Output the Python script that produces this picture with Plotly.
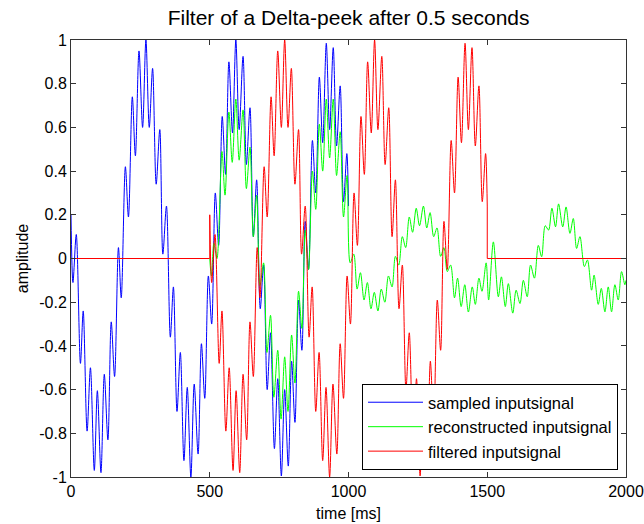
import plotly.graph_objects as go

# ---- data (time in ms, amplitude) ----
blue_t = [0, 7, 19, 34, 44, 58, 70, 84, 95, 108, 120, 133, 145, 157, 171, 181, 196, 207, 221, 232,
          245, 258, 270, 282, 294, 307, 320, 331, 344, 358, 369, 382, 394, 407, 419, 432, 444, 458, 470, 482,
          495, 507, 520, 532, 545, 557, 569, 582, 594, 606, 620, 632, 645, 657, 669, 682, 694, 707, 719, 733,
          745, 758, 770, 783, 795, 807, 820, 832, 844, 856, 870, 882, 895, 907, 920, 932, 945, 957, 970, 982,
          994, 1000]
blue_v = [0.20, -0.11, 0.11, -0.48, -0.24, -0.79, -0.50, -0.97, -0.605, -0.98,
          -0.53, -0.83, -0.29, -0.54, 0.05, -0.18, 0.42, 0.19, 0.74, 0.47,
          0.95, 0.60, 1.0, 0.60, 0.87, 0.34, 0.59, 0.02, 0.24, -0.36,
          -0.13, -0.70, -0.43, -0.925, -0.59, -1.0, -0.575, -0.895, -0.39, -0.64,
          -0.08, -0.30, 0.30, 0.06, 0.65, 0.385, 0.90, 0.575, 1.0, 0.59,
          0.925, 0.43, 0.69, 0.10, 0.36, -0.23, -0.03, -0.60, -0.34, -0.87,
          -0.55, -0.995, -0.60, -0.95, -0.47, -0.75, -0.19, -0.42, 0.17, -0.05,
          0.54, 0.30, 0.83, 0.53, 0.985, 0.59, 0.965, 0.515, 0.79, 0.26,
          0.48, 0.24]

green_t = [500, 506, 515, 526, 544, 555, 569, 581, 594, 606, 620, 632, 645, 657, 669, 681, 694, 706, 719, 731,
           745, 757, 770, 782, 795, 807, 820, 832, 844, 856, 870, 882, 895, 907, 920, 932, 945, 957, 970, 982,
           995, 1006, 1019, 1031, 1043, 1056, 1068, 1081, 1093, 1106, 1118, 1131, 1144, 1157, 1169, 1181, 1194,
           1206, 1219, 1231, 1244, 1256, 1270, 1282, 1294, 1307, 1319, 1332, 1344, 1356, 1368, 1382, 1393, 1406,
           1419, 1432, 1446, 1457, 1470, 1481, 1496, 1505, 1522, 1540, 1551, 1565, 1576, 1592, 1604, 1618,
           1630, 1644, 1656, 1670, 1684, 1696, 1709, 1721, 1733, 1746, 1757, 1772, 1784, 1798, 1810, 1822,
           1834, 1850, 1861, 1876, 1885, 1900, 1911, 1924, 1936, 1948, 1960, 1972, 1984, 1996, 2000]
green_v = [0.0, -0.08, 0.07, 0.0, 0.49, 0.29, 0.67, 0.44, 0.73, 0.45,
           0.68, 0.32, 0.51, 0.10, 0.29, -0.125, -0.02, -0.43, -0.26, -0.635,
           -0.42, -0.735, -0.45, -0.70, -0.35, -0.57, -0.15, -0.32, 0.13, -0.05,
           0.40, 0.225, 0.615, 0.40, 0.73, 0.46, 0.73, 0.38, 0.58, 0.19,
           0.38, -0.02, 0.02, -0.14, -0.065, -0.19, -0.11, -0.23, -0.155, -0.24,
           -0.14, -0.20, -0.08, -0.13, 0.01, -0.03, 0.10, 0.05, 0.19, 0.12,
           0.23, 0.15, 0.24, 0.14, 0.21, 0.10, 0.14, 0.01, 0.05, -0.06,
           -0.03, -0.18, -0.09, -0.22, -0.12, -0.245, -0.13, -0.21, -0.09, -0.15,
           -0.02, -0.19, 0.076, -0.175, -0.084, -0.22, -0.115, -0.25, -0.145, -0.206,
           -0.10, -0.175, -0.03, -0.09, 0.06, 0.008, 0.15, 0.13, 0.23, 0.145,
           0.25, 0.145, 0.236, 0.115, 0.183, 0.046, 0.10, -0.037, -0.007, -0.145,
           -0.076, -0.21, -0.137, -0.244, -0.13, -0.244, -0.12, -0.19, -0.06, -0.12,
           -0.10]

# filtered signal: flat before the delta at 500 ms ...
red_pre_t = [0, 500, 500]
red_pre_v = [0.0, 0.0, 0.20]
# ... the rippled part between 500 and 1500 ms ...
red_t = [500, 507, 519, 534, 544, 558, 570, 584, 595, 608, 620, 633, 645, 657, 671, 681, 696, 707,
         721, 732, 745, 758, 770, 782, 794, 807, 820, 831, 844, 858, 869, 882, 894, 907, 919, 932, 944, 958,
         970, 982, 995, 1007, 1020, 1032, 1045, 1057, 1069, 1082, 1094, 1106, 1120, 1132, 1145, 1157, 1169,
         1182, 1194, 1207, 1219, 1233, 1245, 1258, 1270, 1283, 1295, 1307, 1320, 1332, 1344, 1356, 1370,
         1382, 1395, 1407, 1420, 1432, 1445, 1457, 1470, 1482, 1494, 1500]
red_v = [0.20, -0.11, 0.11, -0.48, -0.24, -0.79, -0.50, -0.97, -0.605, -0.98,
         -0.53, -0.83, -0.29, -0.54, 0.05, -0.18, 0.42, 0.19, 0.74, 0.47,
         0.95, 0.60, 1.0, 0.60, 0.87, 0.34, 0.59, 0.02, 0.24, -0.36,
         -0.13, -0.70, -0.43, -0.925, -0.59, -1.0, -0.575, -0.895, -0.39, -0.64,
         -0.08, -0.30, 0.30, 0.06, 0.65, 0.385, 0.90, 0.575, 1.0, 0.59,
         0.925, 0.43, 0.69, 0.10, 0.36, -0.23, -0.03, -0.60, -0.34, -0.87,
         -0.55, -0.995, -0.60, -0.95, -0.47, -0.75, -0.19, -0.42, 0.17, -0.05,
         0.54, 0.30, 0.83, 0.53, 0.985, 0.59, 0.965, 0.515, 0.79, 0.26,
         0.48, 0.24]
# ... and flat again after 1500 ms
red_post_t = [1500, 1500, 2000]
red_post_v = [0.24, 0.0, 0.0]

x_ticks = [0, 500, 1000, 1500, 2000]
x_tick_labels = ["0", "500", "1000", "1500", "2000"]
y_ticks = [-1, -0.8, -0.6, -0.4, -0.2, 0, 0.2, 0.4, 0.6, 0.8, 1]
y_tick_labels = ["-1", "-0.8", "-0.6", "-0.4", "-0.2", "0", "0.2", "0.4", "0.6", "0.8", "1"]

FONT = "Liberation Sans, Arial, Helvetica, sans-serif"
BLUE, GREEN, RED = "#0000FF", "#00FF00", "#FF0000"
SMOOTH = 0.9

fig = go.Figure()
fig.add_trace(go.Scatter(x=blue_t, y=blue_v, mode="lines", name="sampled inputsignal",
                         line=dict(color=BLUE, width=1, shape="spline", smoothing=SMOOTH)))
fig.add_trace(go.Scatter(x=green_t, y=green_v, mode="lines", name="reconstructed inputsignal",
                         line=dict(color=GREEN, width=1, shape="spline", smoothing=SMOOTH)))
fig.add_trace(go.Scatter(x=red_pre_t, y=red_pre_v, mode="lines", name="filtered inputsignal",
                         legendgroup="red", line=dict(color=RED, width=1)))
fig.add_trace(go.Scatter(x=red_t, y=red_v, mode="lines", name="filtered inputsignal",
                         legendgroup="red", showlegend=False,
                         line=dict(color=RED, width=1, shape="spline", smoothing=SMOOTH)))
fig.add_trace(go.Scatter(x=red_post_t, y=red_post_v, mode="lines", name="filtered inputsignal",
                         legendgroup="red", showlegend=False, line=dict(color=RED, width=1)))

axis_common = dict(ticks="inside", ticklen=5, tickcolor="#333333", tickwidth=1,
                   showline=True, linecolor="#333333", linewidth=1, mirror="ticks",
                   showgrid=False, zeroline=False,
                   tickfont=dict(family=FONT, size=16, color="black"))

fig.update_xaxes(range=[0, 2000], tickvals=x_ticks, ticktext=x_tick_labels,
                 title=dict(text="time [ms]", font=dict(family=FONT, size=16, color="black"), standoff=8),
                 **axis_common)
fig.update_yaxes(range=[-1, 1], tickvals=y_ticks, ticktext=y_tick_labels,
                 title=dict(text="amplitude", font=dict(family=FONT, size=16, color="black"), standoff=6),
                 **axis_common)

fig.update_layout(
    width=644, height=524,
    margin=dict(l=71, r=18, t=40, b=47, autoexpand=False),
    paper_bgcolor="white", plot_bgcolor="white",
    font=dict(family=FONT, size=16, color="black"),
    title=dict(text="Filter of a Delta-peek after 0.5 seconds", x=0.5413, xanchor="center",
               y=1 - 18 / 524, yanchor="middle", yref="container",
               font=dict(family=FONT, size=21, color="black")),
    showlegend=True,
    legend=dict(x=0.9856, y=0.016, xanchor="right", yanchor="bottom",
                bgcolor="white", bordercolor="black", borderwidth=1,
                font=dict(family=FONT, size=16.5, color="black"),
                tracegroupgap=0, itemwidth=55, traceorder="normal"),
)

fig.write_html("out.html")
